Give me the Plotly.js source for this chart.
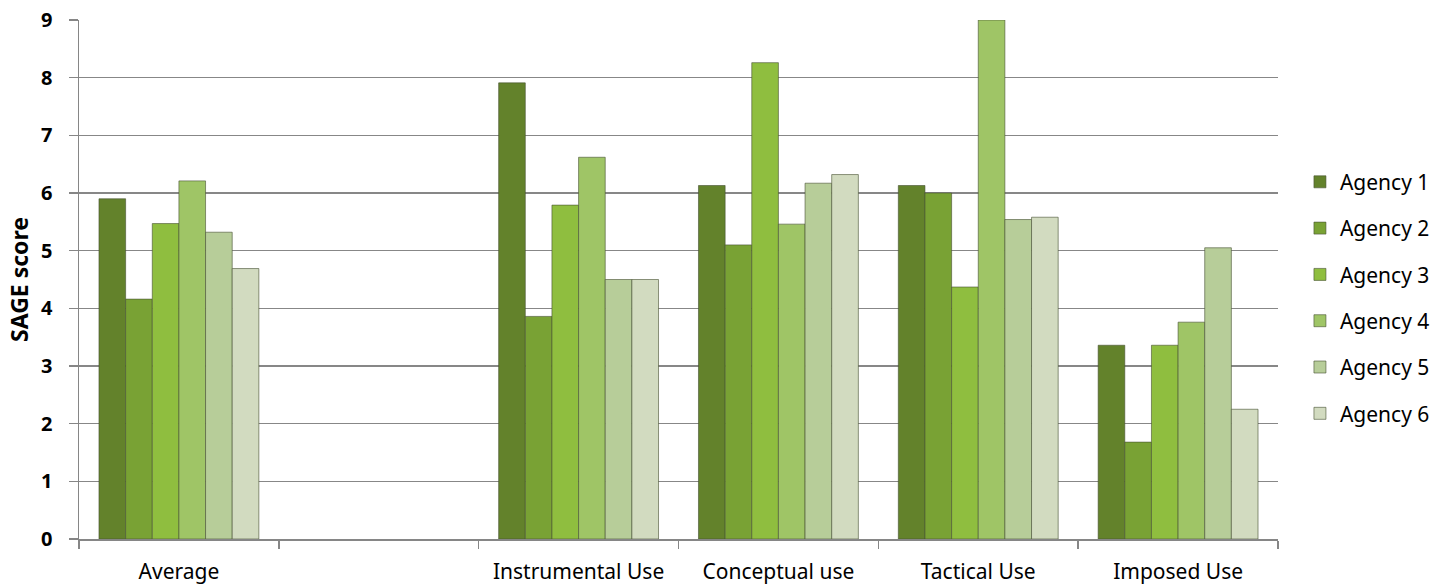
<!DOCTYPE html>
<html>
<head>
<meta charset="utf-8">
<script src="https://cdn.plot.ly/plotly-3.0.1.min.js"></script>
<style>html,body{margin:0;padding:0;background:#fff}#chart{width:1452px;height:586px}</style>
</head>
<body>
<div id="chart"></div>
<script>
const categories = ['Average', ' ', 'Instrumental Use', 'Conceptual use', 'Tactical Use', 'Imposed Use'];
const seriesNames = ['Agency 1', 'Agency 2', 'Agency 3', 'Agency 4', 'Agency 5', 'Agency 6'];
const agency1 = [5.90, null, 7.91, 6.13, 6.13, 3.36];
const agency2 = [4.16, null, 3.86, 5.10, 6.00, 1.68];
const agency3 = [5.47, null, 5.79, 8.26, 4.37, 3.36];
const agency4 = [6.21, null, 6.62, 5.46, 9.00, 3.76];
const agency5 = [5.32, null, 4.50, 6.17, 5.54, 5.05];
const agency6 = [4.69, null, 4.50, 6.32, 5.58, 2.25];
const yTicks = [0, 1, 2, 3, 4, 5, 6, 7, 8, 9];

const allSeries = [agency1, agency2, agency3, agency4, agency5, agency6];
const colors = ['#63822b', '#79a234', '#8fbe3f', '#9fc566', '#b7cd99', '#d2dbc0'];

const traces = allSeries.map((vals, i) => ({
  type: 'bar',
  name: seriesNames[i],
  x: categories,
  y: vals,
  legendgroup: 'g' + i,
  marker: {color: colors[i], line: {color: 'rgba(70,80,50,0.6)', width: 1}},
  hoverinfo: 'x+y+name'
}));

const font = "'Noto Sans', 'Open Sans', 'DejaVu Sans', sans-serif";

const layout = {
  width: 1452,
  height: 586,
  margin: {l: 79, r: 174, t: 20, b: 47},
  paper_bgcolor: '#ffffff',
  plot_bgcolor: '#ffffff',
  barmode: 'group',
  bargap: 0.2,
  bargroupgap: 0,
  font: {family: font, color: '#000000', size: 21},
  xaxis: {
    type: 'category',
    categoryorder: 'array',
    categoryarray: categories,
    tickson: 'boundaries',
    ticks: 'outside',
    ticklen: 8,
    tickcolor: '#868686',
    tickwidth: 1.5,
    ticklabelstandoff: 13,
    showline: true,
    linecolor: '#868686',
    linewidth: 1.5,
    showgrid: false,
    tickfont: {family: font, size: 21, color: '#000'},
    fixedrange: true
  },
  yaxis: {
    range: [0, 9],
    tickvals: yTicks,
    ticktext: yTicks.map(String),
    ticks: 'outside',
    ticklen: 9,
    tickcolor: '#868686',
    tickwidth: 1.5,
    ticklabelstandoff: 12,
    showline: true,
    linecolor: '#868686',
    linewidth: 1.5,
    showgrid: true,
    gridcolor: '#878787',
    gridwidth: 1.4,
    zeroline: false,
    tickfont: {family: font, size: 20, color: '#000', weight: 'bold'},
    title: {text: '<b>SAGE score</b>', font: {family: font, size: 23, color: '#000'}, standoff: 6},
    fixedrange: true
  },
  showlegend: true,
  legend: {
    x: 1.0183,
    xanchor: 'left',
    y: 0.465,
    yanchor: 'middle',
    traceorder: 'grouped',
    tracegroupgap: 16,
    font: {family: font, size: 21, color: '#000'},
    itemwidth: 30,
    bgcolor: 'rgba(0,0,0,0)'
  }
};

Plotly.newPlot('chart', traces, layout, {displayModeBar: false, staticPlot: true});
</script>
</body>
</html>
